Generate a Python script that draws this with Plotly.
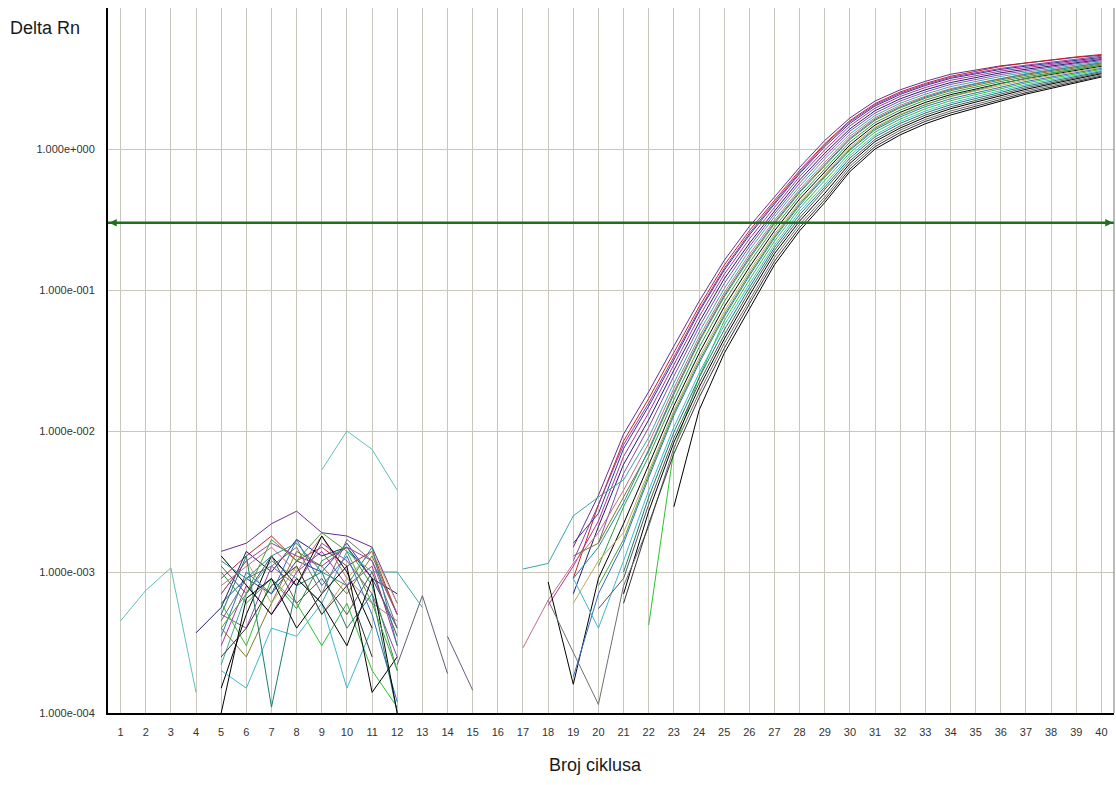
import math
import plotly.graph_objects as go

N = None

# ---------------- data ----------------
CYCLES = list(range(1, 41))
X_TICK_LABELS = [str(c) for c in CYCLES]
Y_TICK_VALUES = [1e-4, 1e-3, 1e-2, 1e-1, 1e0, 1e1]
Y_TICK_LABELS = ["1.000e-004", "1.000e-003", "1.000e-002", "1.000e-001", "1.000e+000", ""]
THRESHOLD = 0.3

# Delta Rn per well, cycles 1..40 (None = non-positive value, not drawn on log axis)
well_01 = [N, N, N, N,
           1.4e-3, 1.6e-3, 2.2e-3, 2.7e-3, 1.9e-3, 1.8e-3, 1.5e-3, 6.0e-4,
           N, N, N, N,
           N, N, 0.0015, 0.0035, 0.0095,
           0.0190, 0.0400, 0.0830, 0.162, 0.282, 0.457, 0.741, 1.15, 1.66, 2.19,
           2.63, 3.02, 3.39, 3.63, 3.89, 4.07, 4.27, 4.47, 4.62]
well_02 = [N, N, N, N,
           9e-4, 1.3e-3, 1.8e-3, 1.2e-3, 1.5e-3, 1.1e-3, 1.4e-3, 5e-4,
           N, N, N, N,
           N, N, 0.0009, 0.0030, 0.0085,
           0.0170, 0.0360, 0.0760, 0.150, 0.263, 0.432, 0.704, 1.09, 1.59, 2.10,
           2.54, 2.92, 3.28, 3.55, 3.85, 4.08, 4.30, 4.50, 4.68]
well_03 = [N, N, N, N,
           6e-4, 9e-4, 7e-4, 1.2e-3, 1.0e-3, 1.6e-3, 9e-4, 4e-4,
           N, N, N, N,
           N, N, 0.0016, 0.0026, 0.0075,
           0.0150, 0.0320, 0.0700, 0.138, 0.245, 0.407, 0.668, 1.04, 1.52, 2.02,
           2.44, 2.82, 3.17, 3.41, 3.67, 3.87, 4.07, 4.29, 4.46]
well_04 = [N, N, N, N,
           3e-4, 8e-4, 5e-4, 1.0e-3, 1.4e-3, 8e-4, 1.1e-3, 3e-4,
           N, N, N, N,
           N, 0.00058, 0.0011, 0.0023, 0.0066,
           0.0135, 0.0295, 0.0645, 0.129, 0.230, 0.385, 0.636, 0.986, 1.46, 1.95,
           2.36, 2.73, 3.07, 3.31, 3.57, 3.78, 3.98, 4.20, 4.39]
well_05 = [N, N, N, 3.7e-4,
           5.6e-4, 1.4e-3, 1.0e-3, 1.7e-3, 1.3e-3, 1.5e-3, 9e-4, 7e-4,
           N, N, N, N,
           N, N, 0.0007, 0.0021, 0.0058,
           0.0120, 0.0270, 0.0589, 0.120, 0.214, 0.363, 0.603, 0.933, 1.39, 1.87,
           2.27, 2.63, 2.96, 3.21, 3.47, 3.68, 3.89, 4.11, 4.31]
well_06 = [N, N, N, N,
           5e-4, 4e-4, 1.1e-3, 8e-4, 1.6e-3, 1.2e-3, 7e-4, 2.5e-4,
           N, N, N, N,
           N, N, N, 0.0016, 0.0050,
           0.0106, 0.0245, 0.0545, 0.111, 0.203, 0.347, 0.573, 0.892, 1.34, 1.80,
           2.19, 2.54, 2.87, 3.11, 3.37, 3.59, 3.81, 4.03, 4.23]
well_07 = [N, N, N, N,
           2.2e-4, 7e-4, 1.2e-3, 9e-4, 6e-4, 1.4e-3, 1.0e-3, 1.0e-3,
           5.6e-4, N, N, N,
           0.00105, 0.00115, 0.0025, 0.0034, 0.0045,
           0.00900, 0.0219, 0.0501, 0.102, 0.191, 0.331, 0.543, 0.851, 1.28, 1.73,
           2.11, 2.45, 2.77, 3.01, 3.27, 3.50, 3.72, 3.94, 4.15]
well_08 = [N, N, N, N,
           8e-4, 1.1e-3, 1.5e-3, 1.0e-3, 1.8e-3, 9e-4, 6e-4, 4.5e-4,
           N, N, N, N,
           0.00029, 0.00063, 0.00115, 0.0019, 0.0038,
           0.0082, 0.0201, 0.0464, 0.0956, 0.179, 0.313, 0.517, 0.805, 1.23, 1.67,
           2.04, 2.37, 2.68, 2.92, 3.18, 3.42, 3.64, 3.86, 4.08]
well_09 = [N, N, N, N,
           4e-4, 2.5e-4, 6e-4, 1.4e-3, 1.1e-3, 7e-4, 1.3e-3, 5e-4,
           N, N, N, N,
           N, N, 0.0013, 0.0016, 0.0034,
           0.00720, 0.0182, 0.0427, 0.0891, 0.166, 0.295, 0.490, 0.759, 1.17, 1.60,
           1.96, 2.29, 2.59, 2.83, 3.09, 3.33, 3.55, 3.78, 4.01]
well_10 = [N, N, N, N,
           1.0e-3, 6e-4, 9e-4, 5.5e-4, 1.2e-3, 1.5e-3, 8e-4, 2e-4,
           N, N, N, N,
           N, N, N, 0.0011, 0.0029,
           0.0066, 0.0167, 0.0391, 0.0825, 0.156, 0.279, 0.466, 0.726, 1.12, 1.54,
           1.89, 2.22, 2.51, 2.75, 3.01, 3.25, 3.47, 3.71, 3.94]
well_11 = [N, N, N, N,
           1.5e-4, 5e-4, 1.3e-3, 8e-4, 1.8e-3, 1.0e-3, 4e-4, N,
           N, N, N, N,
           N, 0.00085, 0.00016, 0.0009, 0.0022,
           0.00575, 0.0151, 0.0355, 0.0759, 0.145, 0.263, 0.442, 0.692, 1.07, 1.48,
           1.82, 2.14, 2.43, 2.66, 2.92, 3.16, 3.39, 3.63, 3.86]
well_12 = [N, N, N, N,
           7e-4, 1.2e-3, 6e-4, 1.1e-3, 5e-4, 9e-4, 1.4e-3, 6e-4,
           N, N, N, N,
           N, N, 0.0006, 0.0012, 0.0019,
           0.0052, 0.0140, 0.0329, 0.0703, 0.136, 0.249, 0.420, 0.662, 1.03, 1.43,
           1.76, 2.07, 2.35, 2.58, 2.84, 3.09, 3.32, 3.56, 3.80]
well_13 = [N, N, N, N,
           3.5e-4, 1.0e-3, 7e-4, 1.7e-3, 8e-4, 1.3e-3, 5e-4, 1.2e-4,
           N, N, N, N,
           N, N, 0.00018, 0.0007, 0.0016,
           0.00468, 0.0129, 0.0302, 0.0646, 0.126, 0.234, 0.398, 0.631, 0.982, 1.37,
           1.69, 2.00, 2.27, 2.50, 2.75, 3.01, 3.24, 3.48, 3.73]
well_14 = [N, N, N, N,
           6e-4, 3e-4, 9e-4, 6e-4, 3e-4, 6e-4, 2e-4, 1.1e-4,
           N, N, N, N,
           N, N, N, N, N,
           0.00042, 0.0074, 0.024, 0.0604, 0.118, 0.222, 0.379, 0.597, 0.941, 1.32,
           1.63, 1.93, 2.20, 2.43, 2.68, 2.94, 3.17, 3.41, 3.67]
well_15 = [N, N, N, N,
           2e-4, 1.5e-4, 4e-4, 3.5e-4, 6e-4, 1.5e-4, 4e-4, N,
           N, N, N, N,
           N, N, 0.0009, 0.0004, 0.0012,
           0.0038, 0.0107, 0.0257, 0.0562, 0.110, 0.209, 0.359, 0.562, 0.90, 1.26,
           1.57, 1.86, 2.12, 2.35, 2.60, 2.86, 3.09, 3.34, 3.60]
well_16 = [N, N, N, N,
           5e-4, 1.3e-3, 1.1e-4, 8e-4, 1.0e-3, 4e-4, 7e-4, 1.0e-4,
           N, N, N, N,
           N, N, N, N, 0.0010,
           0.0034, 0.0098, 0.0238, 0.052, 0.104, 0.200, 0.342, 0.538, 0.862, 1.22,
           1.52, 1.80, 2.06, 2.28, 2.53, 2.79, 3.02, 3.28, 3.54]
well_17 = [N, N, N, N,
           1.1e-3, 7e-4, 1.3e-3, 6e-4, 9e-4, 5e-4, 1.0e-3, 3.5e-4,
           N, N, N, N,
           N, N, N, 0.00055, 0.0009,
           0.00302, 0.00891, 0.0219, 0.0479, 0.0977, 0.191, 0.324, 0.513, 0.824, 1.17,
           1.46, 1.74, 1.99, 2.21, 2.45, 2.72, 2.95, 3.21, 3.48]
well_18 = [N, N, N, N,
           1.0e-4, 6.5e-4, 9e-4, 4e-4, 7e-4, 1.1e-3, 1.4e-4, 2.5e-4,
           N, N, N, N,
           N, N, N, N, 0.0007,
           0.0027, 0.0083, 0.0203, 0.0448, 0.0914, 0.181, 0.308, 0.485, 0.79, 1.13,
           1.41, 1.68, 1.93, 2.15, 2.39, 2.65, 2.89, 3.15, 3.42]
well_19 = [N, N, N, N,
           4.5e-4, 9e-4, 1.1e-3, 1.5e-3, 7e-4, 1.7e-3, 1.2e-3, 4e-4,
           N, N, N, N,
           N, 0.00063, 0.00027, 0.000115, 0.0008,
           0.0021, 0.00759, 0.0186, 0.0417, 0.0851, 0.170, 0.292, 0.457, 0.755, 1.08,
           1.36, 1.62, 1.86, 2.08, 2.32, 2.58, 2.82, 3.08, 3.35]
well_20 = [N, N, N, N,
           1.3e-3, 8e-4, 5e-4, 9e-4, 6e-4, 3e-4, 9e-4, 1.0e-4,
           N, N, N, N,
           N, N, N, N, N,
           N, 0.0029, 0.0140, 0.0355, 0.0741, 0.151, 0.263, 0.417, 0.692, 1.0,
           1.26, 1.51, 1.74, 1.95, 2.19, 2.45, 2.69, 2.95, 3.24]
well_21 = [4.5e-4, 7.4e-4, 1.07e-3, 1.4e-4,
           N, N, N, N, 5.3e-3, 1.0e-2, 7.4e-3, 3.8e-3,
           N, N, N, N,
           N, N, N, N, N,
           N, N, N, N, N, N, N, N, N, N,
           N, N, N, N, N, N, N, N, N]
well_22 = [N, N, N, N,
           N, N, N, N, N, N, N, 2.2e-4,
           6.8e-4, 1.9e-4, N, N,
           N, N, N, N, N,
           N, N, N, N, N, N, N, N, N, N,
           N, N, N, N, N, N, N, N, N]
well_23 = [N, N, N, N,
           N, N, N, N, N, N, N, N,
           N, 3.5e-4, 1.45e-4, N,
           N, N, N, N, N,
           N, N, N, N, N, N, N, N, N, N,
           N, N, N, N, N, N, N, N, N]
well_24 = [N, N, N, N,
           7e-4, 1.2e-3, 1.6e-3, 1.3e-3, 1.1e-3, 1.5e-3, 1.2e-3, 5e-4,
           N, N, N, N,
           N, N, 0.0012, 0.0030, 0.0080,
           0.0158, 0.0335, 0.0720, 0.142, 0.252, 0.418, 0.684, 1.07, 1.56, 2.06,
           2.49, 2.87, 3.22, 3.47, 3.73, 3.93, 4.14, 4.36, 4.55]
well_25 = [N, N, N, N,
           1.2e-3, 9e-4, 1.3e-3, 1.6e-3, 1.0e-3, 8e-4, 1.5e-3, 3e-4,
           N, N, N, N,
           N, N, 0.0009, 0.0015, 0.0031,
           0.0074, 0.0188, 0.0440, 0.0915, 0.171, 0.302, 0.500, 0.775, 1.19, 1.63,
           1.99, 2.33, 2.64, 2.89, 3.15, 3.39, 3.62, 3.86, 4.08]
well_26 = [N, N, N, N,
           4e-4, 7e-4, 1.7e-3, 1.2e-3, 1.9e-3, 1.4e-3, 6e-4, 2e-4,
           N, N, N, N,
           N, N, N, 0.0008, 0.0017,
           0.0049, 0.0134, 0.0313, 0.0668, 0.130, 0.240, 0.408, 0.645, 1.00, 1.40,
           1.74, 2.06, 2.36, 2.62, 2.90, 3.17, 3.42, 3.68, 3.92]
well_27 = [N, N, N, N,
           2.5e-4, 4e-4, 8e-4, 1.1e-3, 5e-4, 8e-4, 2.5e-4, N,
           N, N, N, N,
           N, N, N, N, 0.0006,
           0.0022, 0.0069, 0.0172, 0.0385, 0.0795, 0.160, 0.277, 0.437, 0.722, 1.04,
           1.31, 1.57, 1.80, 2.01, 2.25, 2.51, 2.75, 3.01, 3.29]

WELLS = [well_01, well_02, well_03, well_04, well_05, well_06, well_07, well_08,
         well_09, well_10, well_11, well_12, well_13, well_14, well_15, well_16,
         well_17, well_18, well_19, well_20, well_21, well_22, well_23, well_24,
         well_25, well_26, well_27]
WELL_COLORS = ["#6a2c91", "#c8202a", "#2b3a9a", "#b0309a", "#1f1f70", "#8a4aa8",
               "#3aa6a6", "#c07080", "#7a7a2a", "#2a9a4a", "#000000", "#c0a860",
               "#3070c0", "#30c030", "#40b8d0", "#207a6a", "#555555", "#000000",
               "#707070", "#000000", "#60c0b8", "#606070", "#6a5a80", "#9040a0",
               "#2a8a9a", "#4aa040", "#333333"]

# ---------------- figure ----------------
fig = go.Figure()
for ys, col in zip(WELLS, WELL_COLORS):
    assert len(ys) == len(CYCLES)
    fig.add_trace(go.Scatter(x=CYCLES, y=ys, mode="lines",
                             line=dict(color=col, width=1),
                             connectgaps=False, hoverinfo="skip"))

# threshold line
GREEN = "#1f6f1f"
fig.add_trace(go.Scatter(x=[0.5, 40.5], y=[THRESHOLD, THRESHOLD], mode="lines",
                         line=dict(color=GREEN, width=2.5),
                         cliponaxis=False, hoverinfo="skip"))
ty = math.log10(THRESHOLD)
for xa, xt in [(0.55, 0.95), (40.45, 40.05)]:
    fig.add_annotation(x=xa, y=ty, ax=xt, ay=ty, xref="x", yref="y",
                       axref="x", ayref="y", text="", showarrow=True,
                       arrowhead=2, arrowsize=1, arrowwidth=1.5,
                       arrowcolor=GREEN)

tick_font = dict(family="Liberation Sans, Arial, sans-serif", size=11, color="#333333")
grid_col = "#c9c7bb"

fig.update_xaxes(range=[0.5, 40.5], tickmode="array", tickvals=CYCLES,
                 ticktext=X_TICK_LABELS, showgrid=True, gridcolor=grid_col,
                 gridwidth=1, zeroline=False, showline=True, linecolor="black",
                 linewidth=2, ticks="", tickfont=tick_font, ticklabelstandoff=8,
                 automargin=False)
fig.update_yaxes(type="log", range=[-4, 1], tickmode="array",
                 tickvals=Y_TICK_VALUES, ticktext=Y_TICK_LABELS, showgrid=True,
                 gridcolor=grid_col, gridwidth=1, zeroline=False, showline=True,
                 linecolor="black", linewidth=2, ticks="", tickfont=tick_font,
                 ticklabelstandoff=9, automargin=False)

fig.add_shape(type="line", xref="paper", yref="paper", x0=1, x1=1, y0=0, y1=1,
              line=dict(color="#777777", width=1))

title_font = dict(family="Liberation Sans, Arial, sans-serif", size=18, color="#1a1a1a")
fig.add_annotation(text="Delta Rn", xref="paper", yref="paper", x=-0.0994, y=0.9716,
                   xanchor="left", yanchor="middle", showarrow=False, font=title_font)
fig.add_annotation(text="Broj ciklusa", xref="paper", yref="paper", x=0.485, y=-0.0738,
                   xanchor="center", yanchor="middle", showarrow=False, font=title_font)

fig.update_layout(width=1116, height=785, margin=dict(l=108, r=2, t=8, b=72),
                  plot_bgcolor="white", paper_bgcolor="white", showlegend=False)

# remove the browser's default 8px page margin so the figure fills the window
fig.write_html("out.html", config={"displayModeBar": False},
               post_script="document.body.style.margin='0';"
                           "document.body.style.overflow='hidden';")
